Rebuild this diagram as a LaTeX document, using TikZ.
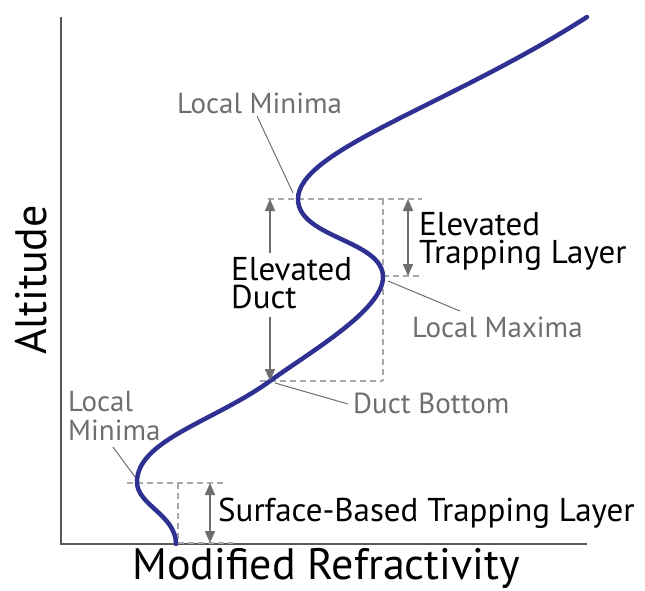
\documentclass[tikz,border=0pt]{standalone}
\usepackage{fontspec}
\setmainfont{PT Sans}
\usetikzlibrary{arrows.meta}
\definecolor{curveblue}{HTML}{2E3192}
\definecolor{axisgray}{HTML}{58595B}
\definecolor{labelgray}{HTML}{6D6E71}
\definecolor{dashgray}{HTML}{A7A9AC}
\definecolor{arrowgray}{HTML}{6D6E71}
\begin{document}
\begin{tikzpicture}[x=1pt,y=-1pt,
  curve/.style={line width=4.5pt, color=curveblue, line cap=round},
  axisline/.style={line width=1.3pt, color=axisgray},
  guide/.style={line width=1.2pt, color=dashgray, dash pattern=on 6pt off 4pt},
  leader/.style={line width=1pt, color=labelgray},
  dimone/.style={line width=1.5pt, color=arrowgray, arrows={-Triangle[width=10pt,length=12pt]}},
  dimboth/.style={line width=1.5pt, color=arrowgray, arrows={Triangle[width=10pt,length=12pt]-Triangle[width=10pt,length=12pt]}},
  graylbl/.style={text=labelgray, font=\fontsize{29}{29}\selectfont, inner sep=0pt, align=left},
  blacklbl/.style={text=black, font=\fontsize{33}{28}\selectfont, inner sep=0pt, align=left},
  axislbl/.style={text=black, font=\fontsize{44}{48}\selectfont, inner sep=0pt}]
\useasboundingbox (0,0) rectangle (645,590);
% key points
\coordinate (top) at (587,17);
\coordinate (min1) at (298,199);
\coordinate (max1) at (383,277);
\coordinate (bot) at (270,381);
\coordinate (min2) at (137,482);
\coordinate (curveend) at (176,544);
% axes
\coordinate (ytop) at (61,17);
\coordinate (origin) at (61,544);
\coordinate (xend) at (587,544);
\draw[axisline] (ytop) -- (origin) -- (xend);
% guides
\draw[guide] (268,199) -- (422,199);
\draw[guide] (383,199) -- (383,381);
\draw[guide] (383,276) -- (423,276);
\draw[guide] (260,381) -- (383,381);
\draw[guide] (127,483) -- (224,483);
\draw[guide] (178,483) -- (178,544);
\draw[guide] (178,543) -- (233,543);
% curve
\draw[curve] (top) .. controls (450,105) and (298,150) .. (min1)
  .. controls (298,238) and (383,240) .. (max1)
  .. controls (383,310) and (310,352) .. (bot)
  .. controls (215,421) and (137,440) .. (min2)
  .. controls (137,505) and (176,515) .. (curveend);
% labels
\node[graylbl, anchor=base west] (lmin1) at (177,113) {Local Minima};
\coordinate (lmin1a) at (257,116); \coordinate (lmin1b) at (293,193);
\draw[leader] (lmin1a) -- (lmin1b);
\node[blacklbl, anchor=base west] (etl) at (419,263) {Elevated\\Trapping Layer};
\coordinate (etlt) at (408,199); \coordinate (etlb) at (408,276);
\draw[dimboth] (etlt) -- (etlb);
\node[blacklbl, anchor=base west] (ed) at (231,308) {Elevated\\Duct};
\coordinate (edt) at (270,199); \coordinate (edta) at (270,253);
\coordinate (edb) at (270,381); \coordinate (edba) at (270,317);
\draw[dimone] (edta) -- (edt);
\draw[dimone] (edba) -- (edb);
\node[graylbl, anchor=base west] (lmax) at (412,337) {Local Maxima};
\coordinate (lmaxa) at (388,281); \coordinate (lmaxb) at (460,311);
\draw[leader] (lmaxa) -- (lmaxb);
\node[graylbl, anchor=base west] (dbot) at (353,413) {Duct Bottom};
\coordinate (dbota) at (275,383); \coordinate (dbotb) at (348,404);
\draw[leader] (dbota) -- (dbotb);
\node[graylbl, anchor=base west] (lmin2) at (68,440) {Local\\Minima};
\coordinate (lm2a) at (113,447); \coordinate (lm2b) at (135,477);
\draw[leader] (lm2a) -- (lm2b);
\node[blacklbl, anchor=base west] (sbtl) at (218,521) {Surface-Based Trapping Layer};
\coordinate (sbt) at (210,483); \coordinate (sbb) at (210,543);
\draw[dimboth] (sbt) -- (sbb);
\node[axislbl, rotate=90, anchor=base] (ylbl) at (46,280) {Altitude};
\node[axislbl, anchor=base] (xlbl) at (326,579) {Modified Refractivity};
\end{tikzpicture}
\end{document}
